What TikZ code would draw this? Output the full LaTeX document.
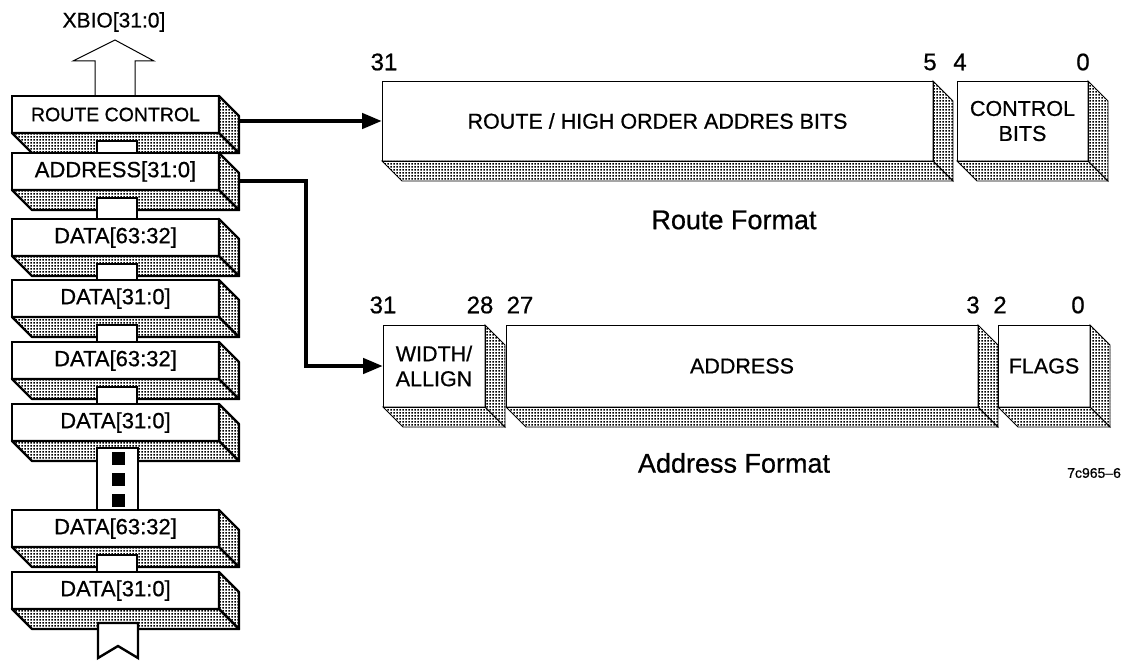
\documentclass[tikz,border=0pt]{standalone}
\usepackage{fontspec}
\setmainfont{Liberation Sans}[FakeBold=0.7]
\usetikzlibrary{patterns.meta,arrows.meta,calc}
\tikzdeclarepattern{name=scandots,type=uncolored,
  bounding box={(0pt,0pt) and (3pt,3pt)},tile size={(3pt,3pt)},
  code={\pgfpathrectangle{\pgfqpoint{0.6pt}{0.6pt}}{\pgfqpoint{1.8pt}{1.8pt}}\pgfusepath{fill}}}
\newcommand\mkshade[2]{%
  \path[#2] (#1.north east) -- ++(20,20) -- ($(#1.south east)+(20,20)$) -- (#1.south east) -- cycle;
  \path[#2] (#1.south west) -- (#1.south east) -- ++(20,20) -- ($(#1.south west)+(20,20)$) -- cycle;}
\begin{document}
\begin{tikzpicture}[x=1pt,y=-1pt,
  lbox/.style={draw, line width=2.4pt, fill=white, minimum width=207pt, minimum height=37pt,
    inner sep=0pt, outer sep=0pt, font=\fontsize{22}{26}\selectfont},
  rbox/.style={draw, line width=0.9pt, fill=white, inner sep=0pt, outer sep=0pt,
    font=\fontsize{21.5}{25}\selectfont, align=center},
  lshade/.style={draw, line width=2.4pt, line join=round, pattern={scandots}},
  rshade/.style={draw, line width=0.9pt, pattern={scandots}},
  conn/.style={line width=4.5pt, -{Triangle[length=20pt,width=15pt]}},
  link/.style={draw, line width=2.4pt, fill=white},
  bitnum/.style={font=\fontsize{24}{28}\selectfont, inner sep=0pt},
  caption/.style={font=\fontsize{27}{31}\selectfont, inner sep=0pt}
]
\useasboundingbox (0,0) rectangle (1121,663);

% ---------- left stack ----------
\node[font=\fontsize{21}{25}\selectfont, inner sep=0pt] (xbio) at (114,22) {XBIO[31:0]};
\draw[line width=1pt, line join=miter] (95,96) -- (95,61) -- (73,61) -- (115,40) -- (154,61) -- (135,61) -- (135,96);

\node[lbox, font=\fontsize{19.5}{23}\selectfont] (b1) at (115.5,114.5) {ROUTE CONTROL};
\mkshade{b1}{lshade}
\draw[link] (97,141) rectangle (137,153);

\node[lbox] (b2) at (115.5,171.5) {ADDRESS[31:0]};
\mkshade{b2}{lshade}
\draw[link] (97,198) rectangle (137,219);

\node[lbox] (b3) at (115.5,237.5) {DATA[63:32]};
\mkshade{b3}{lshade}
\draw[link] (97,264) rectangle (137,280);

\node[lbox] (b4) at (115.5,298.5) {DATA[31:0]};
\mkshade{b4}{lshade}
\draw[link] (97,325) rectangle (137,342);

\node[lbox] (b5) at (115.5,360.5) {DATA[63:32]};
\mkshade{b5}{lshade}
\draw[link] (97,387) rectangle (137,404);

\node[lbox] (b6) at (115.5,422.5) {DATA[31:0]};
\mkshade{b6}{lshade}
\draw[link] (97,448) rectangle (138,510);
\fill (112,452) rectangle (125,465);
\fill (112,473) rectangle (125,486);
\fill (112,494) rectangle (125,507);

\node[lbox] (b7) at (115.5,528.5) {DATA[63:32]};
\mkshade{b7}{lshade}
\draw[link] (97,555) rectangle (137,572);

\node[lbox] (b8) at (115.5,590.5) {DATA[31:0]};
\mkshade{b8}{lshade}
\draw[line width=2.4pt, fill=white, line join=miter] (98,623) -- (98,658) -- (118,646) -- (138,658) -- (138,623) -- cycle;

% ---------- route format ----------
\node[bitnum] (r31) at (384,62) {31};
\node[bitnum] (r5) at (930,62) {5};
\node[bitnum] (r4) at (960,62) {4};
\node[bitnum] (r0) at (1083,62) {0};
\node[rbox, minimum width=551pt, minimum height=80pt] (route) at (657.5,121) {ROUTE / HIGH ORDER ADDRES BITS};
\mkshade{route}{rshade}
\node[rbox, minimum width=131pt, minimum height=80pt] (ctrl) at (1022.5,121) {CONTROL\\BITS};
\mkshade{ctrl}{rshade}
\node[caption] (rfmt) at (734,220) {Route Format};

% ---------- address format ----------
\node[bitnum] (a31) at (383,305) {31};
\node[bitnum] (a28) at (480,305) {28};
\node[bitnum] (a27) at (520,305) {27};
\node[bitnum] (a3) at (973,305) {3};
\node[bitnum] (a2) at (1000,305) {2};
\node[bitnum] (a0) at (1078,305) {0};
\node[rbox, minimum width=102pt, minimum height=82pt] (wa) at (434,366) {WIDTH/\\ALLIGN};
\mkshade{wa}{rshade}
\node[rbox, minimum width=472pt, minimum height=82pt] (addr) at (742,366) {ADDRESS};
\mkshade{addr}{rshade}
\node[rbox, minimum width=92pt, minimum height=82pt] (flags) at (1044,366) {FLAGS};
\mkshade{flags}{rshade}
\node[caption] (afmt) at (734,463) {Address Format};
\node[font=\fontsize{14}{16}\selectfont, anchor=west, inner sep=0pt] (tag) at (1067,473) {7c965–6};

% ---------- connectors ----------
\coordinate (rcs) at (239,121);
\coordinate (ads) at (239,181);
\draw[conn] (rcs) -- (route.west);
\draw[conn] (ads) -- ++(67,0) |- (wa.west);
\end{tikzpicture}
\end{document}
